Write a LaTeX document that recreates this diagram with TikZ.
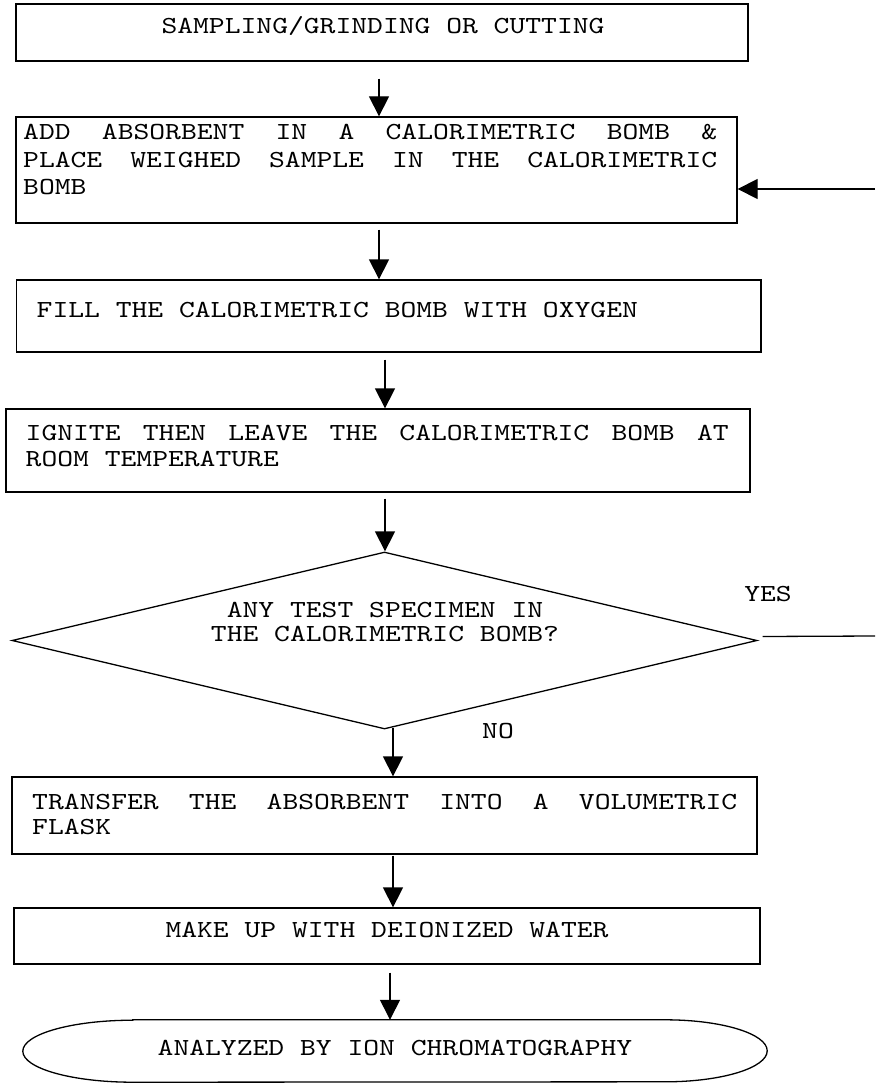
\documentclass[tikz,border=0pt]{standalone}
\usepackage{fontspec}
\newfontfamily\cour[FakeStretch=1.23]{lmmono10-regular.otf}
\usetikzlibrary{arrows.meta,shapes.geometric}
\newcommand{\gp}{\ \hfill}
\begin{document}
\begin{tikzpicture}[x=1pt,y=-1pt,
  box/.style={draw,line width=1.3pt,rectangle,inner sep=0},
  ln/.style={line width=1.3pt},
  arr/.style={line width=1.3pt,-{Triangle[width=20pt,length=20pt]}},
  txt/.style={inner sep=0,font=\cour\fontsize{24.5pt}{26pt}\selectfont}]
\useasboundingbox (0,0) rectangle (875,1083);

% boxes
\node[box,minimum width=732pt,minimum height=57pt] (b1) at (382,32.5) {};
\node[box,minimum width=721pt,minimum height=106pt] (b2) at (376.5,170) {};
\node[box,minimum width=744.5pt,minimum height=72pt] (b3) at (388.75,316) {};
\node[box,minimum width=744pt,minimum height=83pt] (b4) at (378,450.5) {};
\node[diamond,draw,line width=1.3pt,inner sep=0,minimum width=745pt,minimum height=177pt] (d) at (384.5,640.5) {};
\node[box,minimum width=745pt,minimum height=77pt] (b5) at (384.5,815.5) {};
\node[box,minimum width=746pt,minimum height=56pt] (b6) at (387,936) {};
\node[inner sep=0,minimum width=744pt,minimum height=62pt] (term) at (395,1051) {};
\draw[ln] ([xshift=110pt]term.north west) -- ([xshift=-102pt]term.north east)
  arc[start angle=90,end angle=-90,x radius=102pt,y radius=31pt]
  -- ([xshift=110pt]term.south west)
  arc[start angle=270,end angle=90,x radius=110pt,y radius=31pt] -- cycle;

% texts
\node[txt,anchor=base] (t1) at (383,34) {SAMPLING/GRINDING OR CUTTING};
\node[txt,anchor=base west,font=\cour\fontsize{24.5pt}{27.5pt}\selectfont] (t2) at (23,140) {\parbox[t]{694pt}{%
  \makebox[694pt]{ADD\gp ABSORBENT\gp IN\gp A\gp CALORIMETRIC\gp BOMB\gp \&}\\
  \makebox[694pt]{PLACE\gp WEIGHED\gp SAMPLE\gp IN\gp THE\gp CALORIMETRIC}\\
  BOMB}};
\node[txt,anchor=base west] (t3) at (36.5,317) {FILL THE CALORIMETRIC BOMB WITH OXYGEN};
\node[txt,anchor=base west] (t4) at (25.5,440) {\parbox[t]{703pt}{%
  \makebox[703pt]{IGNITE\gp THEN\gp LEAVE\gp THE\gp CALORIMETRIC\gp BOMB\gp AT}\\
  ROOM TEMPERATURE}};
\node[txt,anchor=base,font=\cour\fontsize{24.5pt}{24pt}\selectfont] (td) at (385,617) {\parbox[t]{420pt}{\centering
  ANY TEST SPECIMEN IN\\THE CALORIMETRIC BOMB?}};
\node[txt,anchor=base west,font=\cour\fontsize{24.5pt}{25pt}\selectfont] (t5) at (32,809) {\parbox[t]{705pt}{%
  \makebox[705pt]{TRANSFER\gp THE\gp ABSORBENT\gp INTO\gp A\gp VOLUMETRIC}\\
  FLASK}};
\node[txt,anchor=base] (t6) at (387,937) {MAKE UP WITH DEIONIZED WATER};
\node[txt,anchor=base] (tt) at (395,1055) {ANALYZED BY ION CHROMATOGRAPHY};
\node[txt,anchor=base] (yes) at (768,601) {YES};
\node[txt,anchor=base] (no) at (498,738) {NO};

% connectors
\draw[arr] ([xshift=-3pt,yshift=-17pt]b1.south) -- ([xshift=-3pt]b1.south |- b2.north);
\draw[arr] ([xshift=2.5pt,yshift=-6pt]b2.south) -- ([xshift=2.5pt]b2.south |- b3.north);
\draw[arr] ([xshift=-3.75pt,yshift=-7pt]b3.south) -- ([xshift=-3.75pt]b3.south |- b4.north);
\draw[arr] ([xshift=7pt,yshift=-6pt]b4.south) -- ([xshift=7pt]b4.south |- d.north);
\draw[arr] ([xshift=8.5pt,yshift=2pt]d.south) -- ([xshift=8.5pt]d.south |- b5.north);
\draw[arr] ([xshift=8.5pt,yshift=-1pt]b5.south) -- ([xshift=8.5pt]b5.south |- b6.north);
\draw[arr] ([xshift=3pt,yshift=-8pt]b6.south) -- ([xshift=3pt]b6.south |- term.north);
\coordinate (fb) at (875,189);
\draw[arr] (fb) -- (fb -| b2.east);
\coordinate (ye) at (875,636);
\draw[ln] ([xshift=5pt,yshift=4pt]d.east) -- (ye);
\end{tikzpicture}
\end{document}
